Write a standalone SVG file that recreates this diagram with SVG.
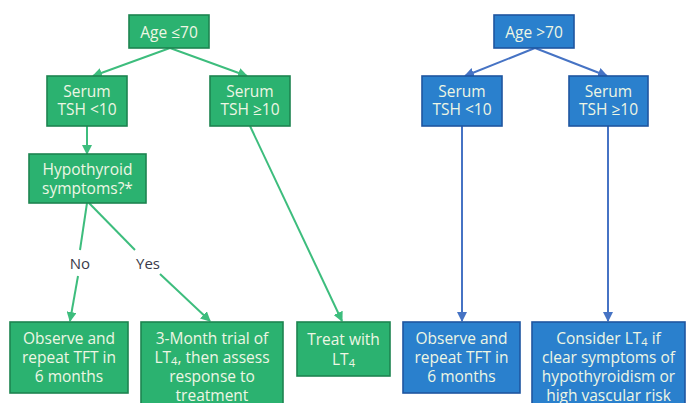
<svg xmlns="http://www.w3.org/2000/svg" width="689" height="403" viewBox="0 0 689 403">
  <defs>
    <marker id="arrG" viewBox="0 0 10 10" refX="9" refY="5" markerWidth="5" markerHeight="5" orient="auto" markerUnits="strokeWidth">
      <path d="M0,0 L10,5 L0,10 z" fill="#3dbd7d"/>
    </marker>
    <marker id="arrB" viewBox="0 0 10 10" refX="9" refY="5" markerWidth="5" markerHeight="5" orient="auto" markerUnits="strokeWidth">
      <path d="M0,0 L10,5 L0,10 z" fill="#4673c4"/>
    </marker>
  </defs>
  <style>
    .g rect { fill: #2bb270; stroke: #1d8450; stroke-width: 1.6; }
    .b rect { fill: #2a80cd; stroke: #1f55a0; stroke-width: 1.6; }
    text { font-family: "Open Sans", "Noto Sans", "DejaVu Sans", sans-serif; font-size: 15.5px; fill: #eef6e4; text-anchor: middle; dominant-baseline: central; }
    .lbl { fill: #3a3a4a; font-size: 15px; }
    .cg { stroke: #3dbd7d; stroke-width: 2; fill: none; }
    .cb { stroke: #4673c4; stroke-width: 2; fill: none; }
    .ag { marker-end: url(#arrG); }
    .ab { marker-end: url(#arrB); }
    .sub { font-size: 11px; }
  </style>

  <rect width="689" height="403" fill="#ffffff"/>

  <!-- connectors -->
  <g id="connectors">
    <line class="cg ag" x1="170" y1="48" x2="93" y2="76"/>
    <line class="cg ag" x1="170" y1="48" x2="247" y2="76"/>
    <line class="cg ag" x1="87" y1="126" x2="87" y2="154"/>
    <line class="cg ag" x1="250" y1="126" x2="342" y2="321"/>
    <line class="cg" x1="87" y1="203" x2="80" y2="250"/>
    <line class="cg ag" x1="78" y1="276" x2="70" y2="321"/>
    <line class="cg" x1="89" y1="203" x2="135" y2="250"/>
    <line class="cg ag" x1="160" y1="274" x2="210" y2="321"/>
    <line class="cb ab" x1="535" y1="48" x2="465" y2="76"/>
    <line class="cb ab" x1="535" y1="48" x2="607" y2="76"/>
    <line class="cb ab" x1="462" y1="126" x2="462" y2="321"/>
    <line class="cb ab" x1="608" y1="126" x2="608" y2="321"/>
    <text class="lbl" x="80" y="263">No</text>
    <text class="lbl" x="148" y="263">Yes</text>
  </g>

  <!-- age up to 70 branch -->
  <g id="age-le70" class="g">
    <rect x="129" y="15" width="80" height="33"/>
    <text x="169" y="31.5">Age ≤70</text>
  </g>
  <g id="tsh-lt10-young" class="g">
    <rect x="47" y="76" width="80" height="50"/>
    <text x="87" y="91">Serum</text>
    <text x="87" y="109">TSH &lt;10</text>
  </g>
  <g id="tsh-ge10-young" class="g">
    <rect x="210" y="76" width="80" height="50"/>
    <text x="250" y="91">Serum</text>
    <text x="250" y="109">TSH ≥10</text>
  </g>
  <g id="hypothyroid" class="g">
    <rect x="29" y="154" width="117" height="49"/>
    <text x="87.5" y="169">Hypothyroid</text>
    <text x="87.5" y="188">symptoms?*</text>
  </g>
  <g id="observe-young" class="g">
    <rect x="10" y="322" width="118" height="71"/>
    <text x="69" y="338">Observe and</text>
    <text x="69" y="357">repeat TFT in</text>
    <text x="69" y="376">6 months</text>
  </g>
  <g id="trial" class="g">
    <rect x="141" y="322" width="142" height="88"/>
    <text x="212" y="338">3-Month trial of</text>
    <text x="212" y="357">LT<tspan class="sub" dy="3">4</tspan><tspan dy="-3">, then assess</tspan></text>
    <text x="212" y="376">response to</text>
    <text x="212" y="395">treatment</text>
  </g>
  <g id="treat" class="g">
    <rect x="297" y="322" width="93" height="54"/>
    <text x="343.5" y="339">Treat with</text>
    <text x="343.5" y="359">LT<tspan class="sub" dy="3">4</tspan></text>
  </g>

  <!-- age over 70 branch -->
  <g id="age-gt70" class="b">
    <rect x="494" y="15" width="80" height="33"/>
    <text x="534" y="31.5">Age &gt;70</text>
  </g>
  <g id="tsh-lt10-old" class="b">
    <rect x="422" y="76" width="80" height="50"/>
    <text x="462" y="91">Serum</text>
    <text x="462" y="109">TSH  &lt;10</text>
  </g>
  <g id="tsh-ge10-old" class="b">
    <rect x="569" y="76" width="79" height="50"/>
    <text x="608.5" y="91">Serum</text>
    <text x="608.5" y="109">TSH ≥10</text>
  </g>
  <g id="observe-old" class="b">
    <rect x="403" y="322" width="117" height="71"/>
    <text x="461.5" y="338">Observe and</text>
    <text x="461.5" y="357">repeat TFT in</text>
    <text x="461.5" y="376">6 months</text>
  </g>
  <g id="consider" class="b">
    <rect x="532" y="322" width="153" height="88"/>
    <text x="608.5" y="338">Consider LT<tspan class="sub" dy="3">4</tspan><tspan dy="-3"> if</tspan></text>
    <text x="608.5" y="357">clear symptoms of</text>
    <text x="608.5" y="376">hypothyroidism or</text>
    <text x="608.5" y="395">high vascular risk</text>
  </g>
</svg>
